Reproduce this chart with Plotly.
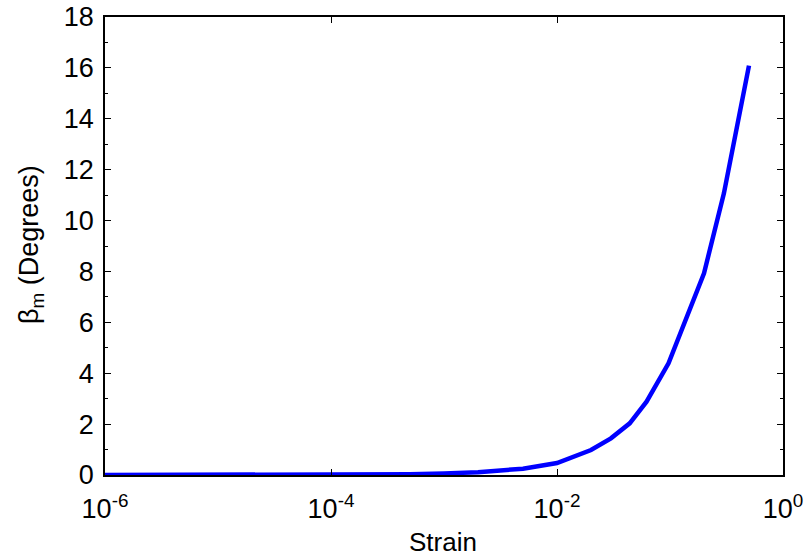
import plotly.graph_objects as go

strain = [1e-6, 2e-6, 5e-6, 1e-5, 2e-5, 5e-5, 1e-4, 2e-4, 5e-4, 1e-3, 2e-3, 5e-3,
          1e-2, 2e-2, 3e-2, 4.4e-2, 6.2e-2, 0.097, 0.2, 0.3, 0.4, 0.5]
beta_m = [0.0, 0.0, 0.0, 0.0, 0.002, 0.005, 0.01, 0.015, 0.03, 0.06, 0.11, 0.25,
          0.47, 0.98, 1.44, 2.03, 2.88, 4.39, 7.93, 11.07, 14.02, 16.09]

x_tickvals = [1e-6, 1e-4, 1e-2, 1]
x_ticktext = ["10<sup>-6</sup>", "10<sup>-4</sup>", "10<sup>-2</sup>", "10<sup>0</sup>"]
y_tickvals = [0, 2, 4, 6, 8, 10, 12, 14, 16, 18]

font = "Liberation Sans, Arial, sans-serif"

L, R, T, B = 105, 23, 17, 85
W, H = 806, 560
pw, ph = W - L - R, H - T - B

fig = go.Figure()
fig.add_trace(go.Scatter(x=strain, y=beta_m, mode="lines",
                         line=dict(color="#0000FF", width=4.5), showlegend=False))

fig.update_layout(
    width=W, height=H,
    margin=dict(l=L, r=R, t=T, b=B),
    paper_bgcolor="white", plot_bgcolor="white",
    font=dict(family=font, size=27, color="black"),
    xaxis=dict(
        type="log", range=[-6, 0], tickvals=x_tickvals, ticktext=x_ticktext,
        ticks="inside", ticklen=6, tickwidth=1, tickcolor="black",
        showline=True, linecolor="black", linewidth=1.5, mirror="ticks",
        showgrid=False, zeroline=False, automargin=False,
        ticklabelstandoff=9,
        tickfont=dict(size=27),
    ),
    yaxis=dict(
        range=[0, 18], tickvals=y_tickvals,
        ticks="inside", ticklen=6, tickwidth=1, tickcolor="black",
        minor=dict(dtick=1, ticks="inside", ticklen=3, tickcolor="black", tickwidth=1),
        showline=True, linecolor="black", linewidth=1.5, mirror="ticks",
        showgrid=False, zeroline=False, automargin=False,
        ticklabelstandoff=4,
        tickfont=dict(size=27),
    ),
    annotations=[
        dict(text="Strain", xref="paper", yref="paper",
             x=(443 - L) / pw, y=-(542 - (T + ph)) / ph,
             xanchor="center", yanchor="middle", showarrow=False,
             font=dict(size=26)),
        dict(text="β<sub>m</sub> (Degrees)", xref="paper", yref="paper",
             x=(31 - L) / pw, y=(T + ph - 245) / ph, textangle=-90,
             xanchor="center", yanchor="middle", showarrow=False,
             font=dict(size=27)),
    ],
)

fig.write_html("out.html")
